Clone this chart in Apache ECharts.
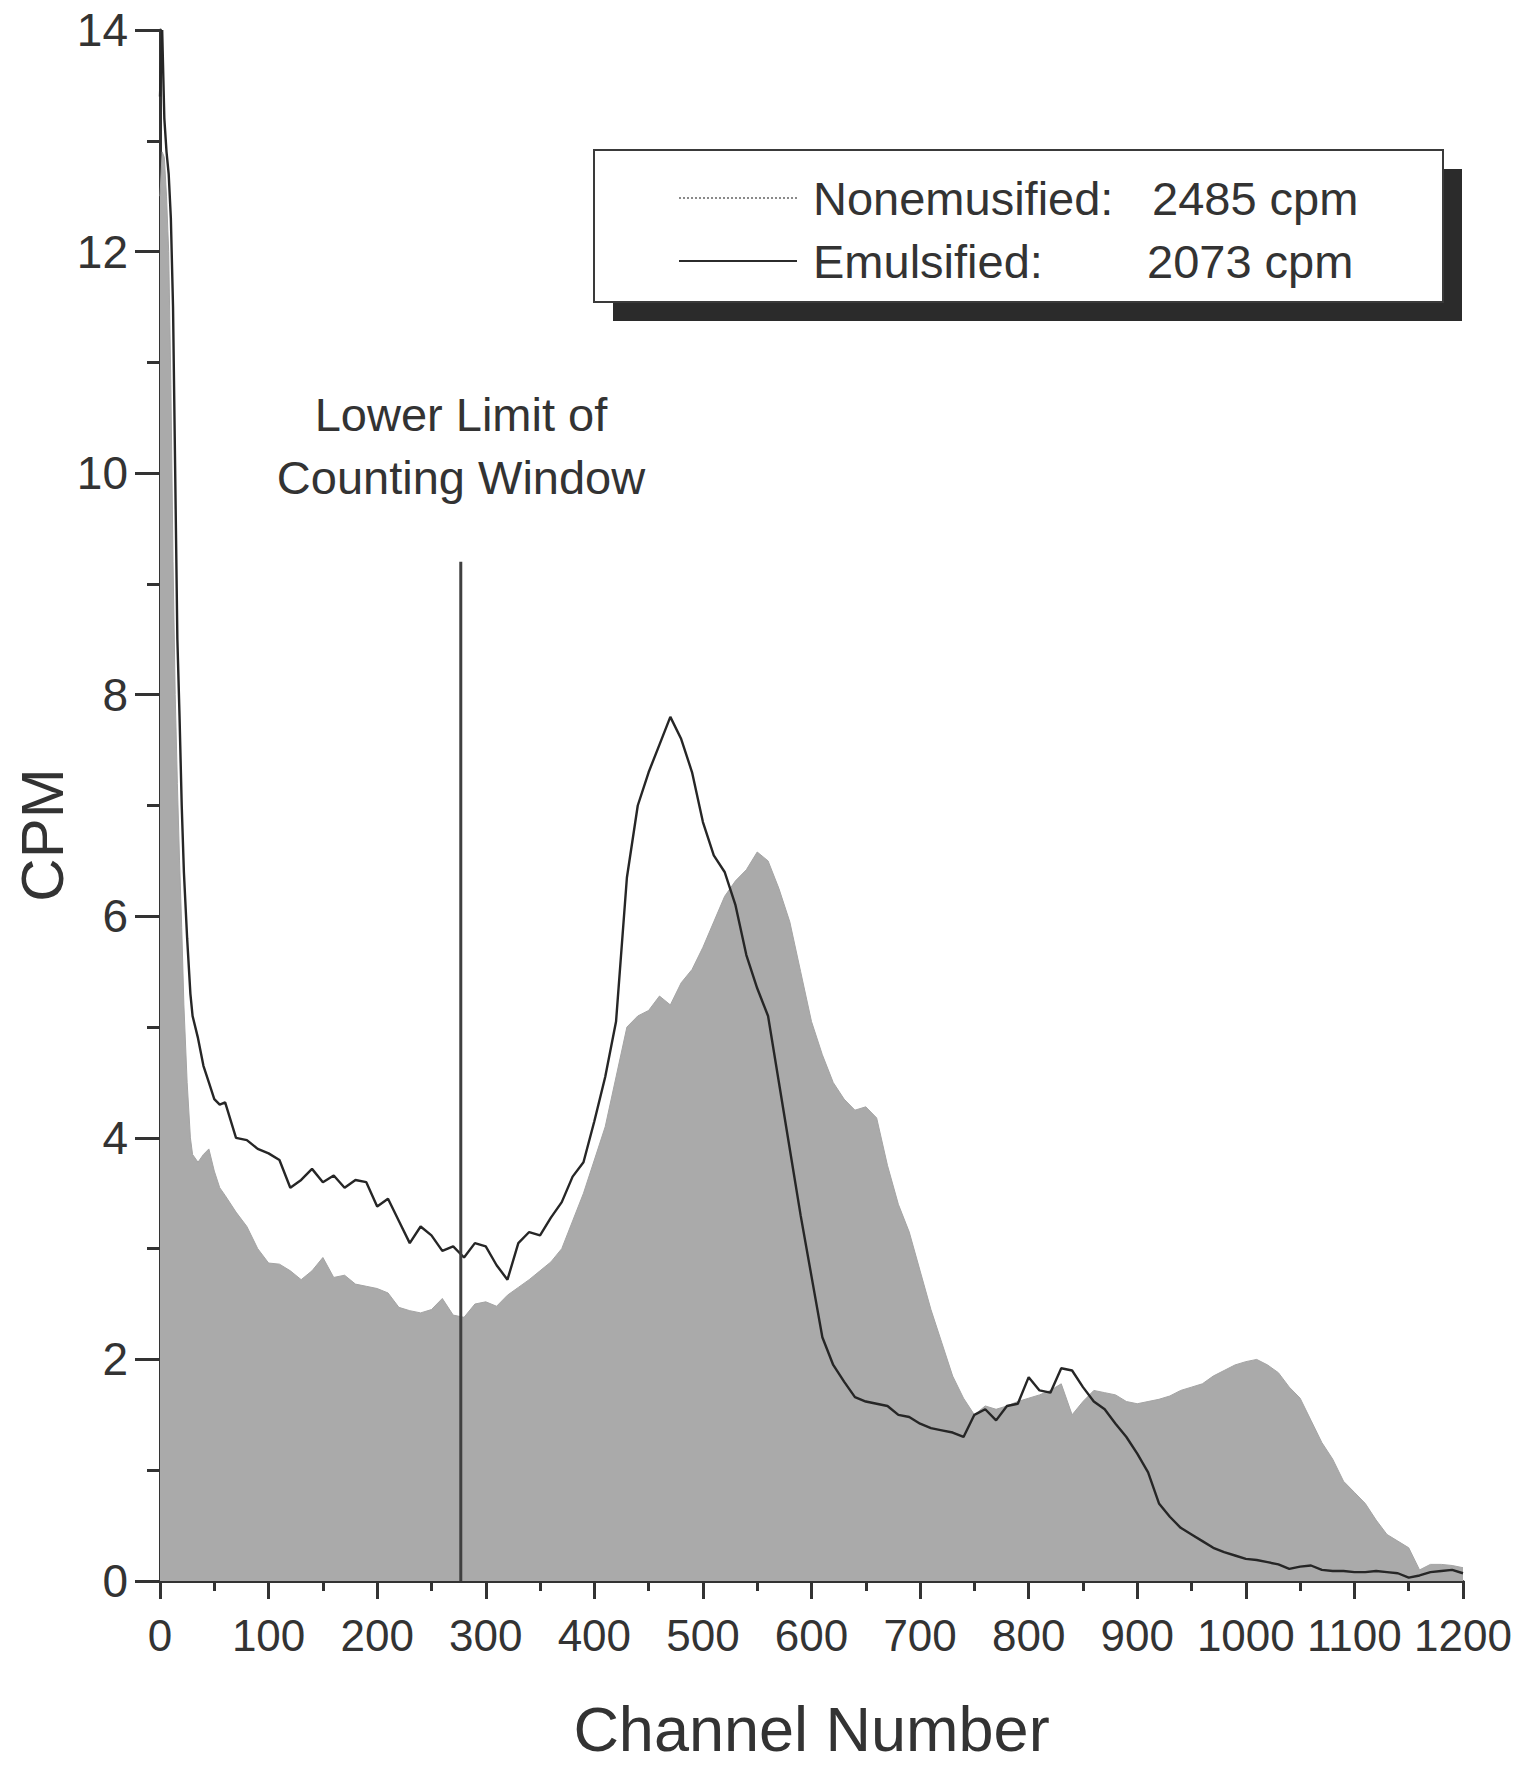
<!DOCTYPE html>
<html>
<head>
<meta charset="utf-8">
<script src="https://cdn.jsdelivr.net/npm/echarts@6/dist/echarts.min.js"></script>
<style>
html,body{margin:0;padding:0;background:#ffffff;}
#chart{width:1535px;height:1765px;}
</style>
</head>
<body>
<div id="chart"></div>
<script>
// ---- data ----
const channels = [0,2,4,6,8,10,12,14,16,18,20,22,25,28,30,35,40,45,50,55,60,
  70,80,90,100,110,120,130,140,150,160,170,180,190,200,210,220,230,240,250,260,270,280,290,300,
  310,320,330,340,350,360,370,380,390,400,410,420,430,440,450,460,470,480,490,500,
  510,520,530,540,550,560,570,580,590,600,610,620,630,640,650,660,670,680,690,700,
  710,720,730,740,750,760,770,780,790,800,810,820,830,840,850,860,870,880,890,900,
  910,920,930,940,950,960,970,980,990,1000,1010,1020,1030,1040,1050,1060,1070,1080,1090,1100,
  1110,1120,1130,1140,1150,1160,1170,1180,1190,1200];

const emulsified = [13.4,14.0,13.2,12.9,12.7,12.3,11.5,10.0,8.5,7.8,7.0,6.4,5.8,5.3,5.1,4.9,4.65,4.5,4.35,4.3,4.32,
  4.0,3.98,3.9,3.86,3.8,3.55,3.62,3.72,3.6,3.66,3.55,3.62,3.6,3.38,3.45,3.25,3.05,3.2,3.12,2.98,3.02,2.92,3.05,3.02,
  2.85,2.72,3.05,3.15,3.12,3.28,3.42,3.65,3.78,4.15,4.55,5.05,6.35,7.0,7.3,7.55,7.8,7.6,7.3,6.85,
  6.55,6.4,6.1,5.65,5.35,5.1,4.5,3.9,3.3,2.75,2.2,1.95,1.8,1.66,1.62,1.6,1.58,1.5,1.48,1.42,
  1.38,1.36,1.34,1.3,1.5,1.55,1.45,1.58,1.6,1.84,1.72,1.7,1.92,1.9,1.75,1.62,1.55,1.42,1.3,1.15,
  0.98,0.7,0.58,0.48,0.42,0.36,0.3,0.26,0.23,0.2,0.19,0.17,0.15,0.11,0.13,0.14,0.1,0.09,0.09,0.08,
  0.08,0.09,0.08,0.07,0.03,0.05,0.08,0.09,0.1,0.07];

const nonemulsified = [12.5,12.9,12.85,12.5,12.0,10.8,9.2,8.0,7.2,6.5,5.9,5.2,4.5,4.0,3.85,3.78,3.85,3.9,3.7,3.55,3.48,
  3.33,3.2,3.0,2.87,2.86,2.8,2.72,2.8,2.92,2.74,2.76,2.68,2.66,2.64,2.6,2.47,2.44,2.42,2.45,2.55,2.4,2.38,2.5,2.52,
  2.48,2.58,2.65,2.72,2.8,2.88,3.0,3.25,3.5,3.8,4.1,4.55,5.0,5.1,5.15,5.28,5.2,5.4,5.52,5.72,
  5.95,6.18,6.32,6.42,6.58,6.5,6.25,5.95,5.5,5.05,4.75,4.5,4.35,4.25,4.28,4.18,3.75,3.4,3.15,2.8,
  2.45,2.15,1.85,1.65,1.5,1.58,1.55,1.58,1.62,1.65,1.68,1.72,1.78,1.5,1.62,1.72,1.7,1.68,1.62,1.6,
  1.62,1.64,1.67,1.72,1.75,1.78,1.85,1.9,1.95,1.98,2.0,1.95,1.88,1.75,1.65,1.45,1.25,1.1,0.9,0.8,
  0.7,0.55,0.42,0.36,0.3,0.1,0.15,0.15,0.14,0.12];

const windowChannel = 277;   // lower limit of counting window
const windowTop = 9.2;

const xTicks = [0,100,200,300,400,500,600,700,800,900,1000,1100,1200];
const yTicks = [0,2,4,6,8,10,12,14];

const legendLabels = ['Nonemusified:', 'Emulsified:'];
const legendCounts = ['2485 cpm', '2073 cpm'];
const annotation = ['Lower Limit of', 'Counting Window'];
const xTitle = 'Channel Number';
const yTitle = 'CPM';

// ---- chart ----
const FONT = '"Liberation Sans", Arial, Helvetica, sans-serif';
const INK = '#333333';
const chart = echarts.init(document.getElementById('chart'), null, {renderer: 'svg'});

const pairs = (vals) => channels.map((c, i) => [c, vals[i]]);

chart.setOption({
  backgroundColor: '#ffffff',
  animation: false,
  textStyle: {fontFamily: FONT, color: INK},
  grid: {left: 160, right: 72, top: 30, bottom: 183, containLabel: false},
  xAxis: {
    type: 'value', min: xTicks[0], max: xTicks[xTicks.length - 1], interval: 100,
    name: xTitle, nameLocation: 'middle', nameGap: 116,
    nameTextStyle: {fontSize: 63, color: INK, fontFamily: FONT},
    axisLine: {show: true, lineStyle: {color: INK, width: 3}},
    axisTick: {show: true, length: 18, lineStyle: {color: INK, width: 3}},
    minorTick: {show: true, splitNumber: 2, length: 10, lineStyle: {color: INK, width: 3}},
    axisLabel: {fontSize: 44, color: INK, margin: 32, fontFamily: FONT,
      showMinLabel: true, showMaxLabel: true, hideOverlap: false,
      formatter: (v) => String(v)},
    splitLine: {show: false}
  },
  yAxis: {
    type: 'value', min: yTicks[0], max: yTicks[yTicks.length - 1], interval: 2,
    axisLine: {show: true, lineStyle: {color: INK, width: 3}},
    axisTick: {show: true, length: 25, lineStyle: {color: INK, width: 3}},
    minorTick: {show: true, splitNumber: 2, length: 13, lineStyle: {color: INK, width: 3}},
    axisLabel: {fontSize: 46, color: INK, margin: 32, fontFamily: FONT,
      showMinLabel: true, showMaxLabel: true},
    splitLine: {show: false}
  },
  series: [
    {
      name: 'Nonemusified', type: 'line', data: pairs(nonemulsified),
      showSymbol: false, symbol: 'none', z: 1,
      lineStyle: {color: '#a4a4a4', width: 1},
      areaStyle: {color: '#aaaaaa', opacity: 1}
    },
    {
      name: 'Emulsified', type: 'line', data: pairs(emulsified),
      showSymbol: false, symbol: 'none', z: 3,
      lineStyle: {color: '#262626', width: 2.4}
    },
    {
      name: 'Window', type: 'line', data: [[windowChannel, 0], [windowChannel, windowTop]],
      showSymbol: false, symbol: 'none', z: 4,
      lineStyle: {color: '#404040', width: 3}
    }
  ],
  graphic: [
    {type: 'text', x: 42, y: 835, rotation: Math.PI / 2,
      style: {text: yTitle, font: '60px ' + FONT, fill: INK, align: 'center', verticalAlign: 'middle'}, z: 12},
    {type: 'rect', shape: {x: 613, y: 169, width: 849, height: 152}, style: {fill: '#2b2b2b'}, z: 10},
    {type: 'rect', shape: {x: 594, y: 150, width: 849, height: 152}, style: {fill: '#ffffff', stroke: '#3a3a3a', lineWidth: 2}, z: 11},
    {type: 'line', shape: {x1: 679, y1: 198, x2: 797, y2: 198}, style: {stroke: '#8a8a8a', lineWidth: 2, lineDash: [2, 2]}, z: 12},
    {type: 'line', shape: {x1: 679, y1: 261, x2: 797, y2: 261}, style: {stroke: '#2b2b2b', lineWidth: 2}, z: 12},
    {type: 'text', x: 813, y: 198, style: {text: legendLabels[0], font: '47px ' + FONT, fill: INK, verticalAlign: 'middle'}, z: 12},
    {type: 'text', x: 1152, y: 198, style: {text: legendCounts[0], font: '47px ' + FONT, fill: INK, verticalAlign: 'middle'}, z: 12},
    {type: 'text', x: 813, y: 261, style: {text: legendLabels[1], font: '47px ' + FONT, fill: INK, verticalAlign: 'middle'}, z: 12},
    {type: 'text', x: 1147, y: 261, style: {text: legendCounts[1], font: '47px ' + FONT, fill: INK, verticalAlign: 'middle'}, z: 12},
    {type: 'text', x: 461, y: 414, style: {text: annotation[0], font: '47px ' + FONT, fill: INK, align: 'center', verticalAlign: 'middle'}, z: 12},
    {type: 'text', x: 461, y: 477, style: {text: annotation[1], font: '47px ' + FONT, fill: INK, align: 'center', verticalAlign: 'middle'}, z: 12}
  ]
});
</script>
</body>
</html>
